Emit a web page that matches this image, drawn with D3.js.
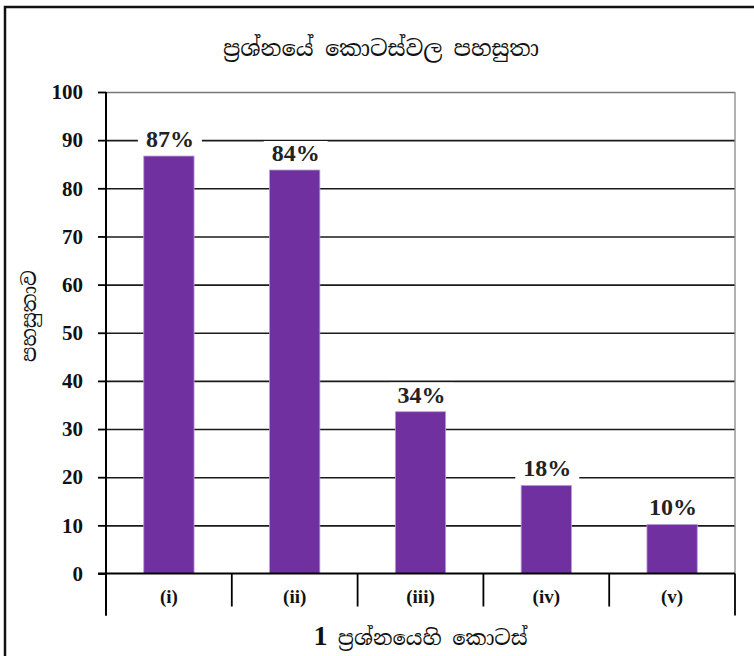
<!DOCTYPE html>
<html>
<head>
<meta charset="utf-8">
<script src="https://cdn.jsdelivr.net/npm/d3@7"></script>
<style>
  html, body { margin: 0; padding: 0; background: #fff; }
  svg { display: block; }
  .sin { font-family: "Noto Serif Sinhala", "Noto Sans Sinhala", "Iskoola Pota", "Lohit Sinhala", "Noto Sans", serif; }
  .num { font-family: "Liberation Serif", "Times New Roman", serif; font-weight: bold; }
</style>
</head>
<body>
<script>
const categories = ["(i)", "(ii)", "(iii)", "(iv)", "(v)"];
const values = [86.7, 83.8, 33.6, 18.3, 10.2];
const valueLabels = ["87%", "84%", "34%", "18%", "10%"];
const yTicks = [0, 10, 20, 30, 40, 50, 60, 70, 80, 90, 100];
const titleText = "ප්‍රශ්නයේ කොටස්වල පහසුතා";
const yTitleText = "පහසුතාව";
const xTitleNum = "1";
const xTitleText = " ප්‍රශ්නයෙහි කොටස්";

(function () {
const W = 754, H = 656;
const pL = 106, pR = 735, pT = 92, pB = 573.5;

const svg = d3.select("body").append("svg").attr("width", W).attr("height", H);

// outer frame (only top/left visible)
svg.append("rect").attr("x", 5).attr("y", 7).attr("width", 800).attr("height", 700)
  .attr("fill", "none").attr("stroke", "#111").attr("stroke-width", 2.5);

const x = d3.scaleBand().domain(categories).range([pL, pR]).paddingInner(0.6).paddingOuter(0.3);
const y = d3.scaleLinear().domain([0, 100]).range([pB, pT]);

// gridlines
const grid = svg.append("g").attr("transform", `translate(${pL},0)`)
  .call(d3.axisLeft(y).tickValues(yTicks.filter(d => d > 0)).tickSize(-(pR - pL)).tickFormat(""))
  .call(g => g.select(".domain").remove())
  .call(g => g.selectAll("line").attr("stroke", "#1a1a1a").attr("stroke-width", 1.6));
grid.selectAll(".tick").filter(d => d === 100).select("line").attr("stroke", "#777").attr("stroke-width", 1.3);

// right plot border
svg.append("line").attr("x1", pR).attr("x2", pR).attr("y1", pT).attr("y2", pB)
  .attr("stroke", "#888").attr("stroke-width", 1.3);

// bars
svg.append("g").selectAll("rect").data(values).join("rect")
  .attr("x", (d, i) => x(categories[i]))
  .attr("width", x.bandwidth())
  .attr("y", d => y(d))
  .attr("height", d => y(0) - y(d))
  .attr("fill", "#7030A0")
  .attr("stroke", "#b9a0d6").attr("stroke-width", 0.8);

// value labels with white background
const lab = svg.append("g").selectAll("g").data(values).join("g")
  .attr("transform", (d, i) => `translate(${x(categories[i]) + x.bandwidth() / 2 + 1},${y(d) - 9})`);
lab.append("rect").attr("x", -32).attr("y", -20).attr("width", 64).attr("height", 26).attr("fill", "#fff");
lab.append("text").attr("class", "num").attr("text-anchor", "middle")
  .attr("font-size", 24).attr("fill", "#222")
  .text((d, i) => valueLabels[i]);

// y axis
svg.append("g").attr("transform", `translate(${pL},0)`)
  .call(d3.axisLeft(y).tickValues(yTicks).tickSize(8).tickPadding(15).tickFormat(d3.format("d")))
  .call(g => g.select(".domain").attr("stroke", "#000").attr("stroke-width", 2).attr("d", `M0,${pT}V${pB + 42}`))
  .call(g => g.selectAll(".tick line").attr("stroke", "#000").attr("stroke-width", 1.8))
  .call(g => g.selectAll("text").attr("class", "num").attr("font-size", 21).attr("fill", "#111"));

// x axis baseline and category dividers
svg.append("line").attr("x1", pL - 8).attr("x2", pR).attr("y1", pB).attr("y2", pB)
  .attr("stroke", "#000").attr("stroke-width", 2);
const bounds = d3.range(categories.length + 1).map(i => pL + i * x.step());
svg.append("g").selectAll("line").data(bounds).join("line")
  .attr("x1", d => d).attr("x2", d => d)
  .attr("y1", pB)
  .attr("y2", (d, i) => (i === 0 || i === categories.length) ? pB + 42 : pB + 33)
  .attr("stroke", "#000").attr("stroke-width", 1.8);
svg.append("g").selectAll("text").data(categories).join("text")
  .attr("class", "num").attr("font-size", 19).attr("text-anchor", "middle").attr("fill", "#111")
  .attr("x", d => x(d) + x.bandwidth() / 2).attr("y", pB + 29)
  .text(d => d);

// title
svg.append("text").attr("class", "sin").attr("x", 381).attr("y", 56)
  .attr("text-anchor", "middle").attr("font-size", 22.5).attr("fill", "#111").text(titleText);

// y title
svg.append("text").attr("class", "sin").attr("transform", "translate(36,316) rotate(-90)")
  .attr("text-anchor", "middle").attr("font-size", 20).attr("fill", "#111").text(yTitleText);

// x title
const xt = svg.append("text").attr("x", (pL + pR) / 2).attr("y", 645)
  .attr("text-anchor", "middle").attr("fill", "#111");
xt.append("tspan").attr("class", "num").attr("font-size", 28).text(xTitleNum);
xt.append("tspan").attr("class", "sin").attr("font-size", 21).text(xTitleText);
})();
</script>
</body>
</html>
